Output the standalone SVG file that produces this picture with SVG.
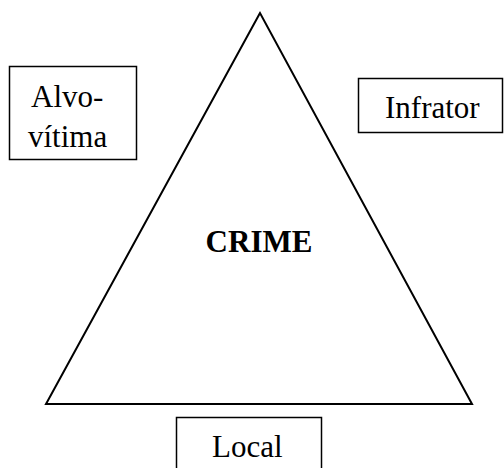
<svg xmlns="http://www.w3.org/2000/svg" width="504" height="468" viewBox="0 0 504 468">
<rect width="504" height="468" fill="#fff"/>
<g id="connectors">
<polygon points="260,13 46,404 472,404" fill="none" stroke="#000" stroke-width="2"/>
</g>
<g font-family="'Liberation Serif', serif" font-size="31" fill="#000">
<g id="crime"><text x="259" y="252" text-anchor="middle" font-weight="bold">CRIME</text></g>
<g id="alvo"><rect x="9.5" y="66.5" width="127" height="93" fill="#fff" stroke="#000" stroke-width="1.5"/>
<text x="31" y="107">Alvo-</text><text x="28" y="147">vítima</text></g>
<g id="infrator"><rect x="358.5" y="78.5" width="144" height="54" fill="#fff" stroke="#000" stroke-width="1.5"/>
<text x="385" y="118">Infrator</text></g>
<g id="local"><rect x="176.5" y="417.5" width="145" height="55" fill="#fff" stroke="#000" stroke-width="1.5"/>
<text x="212" y="457">Local</text></g>
</g>
</svg>
